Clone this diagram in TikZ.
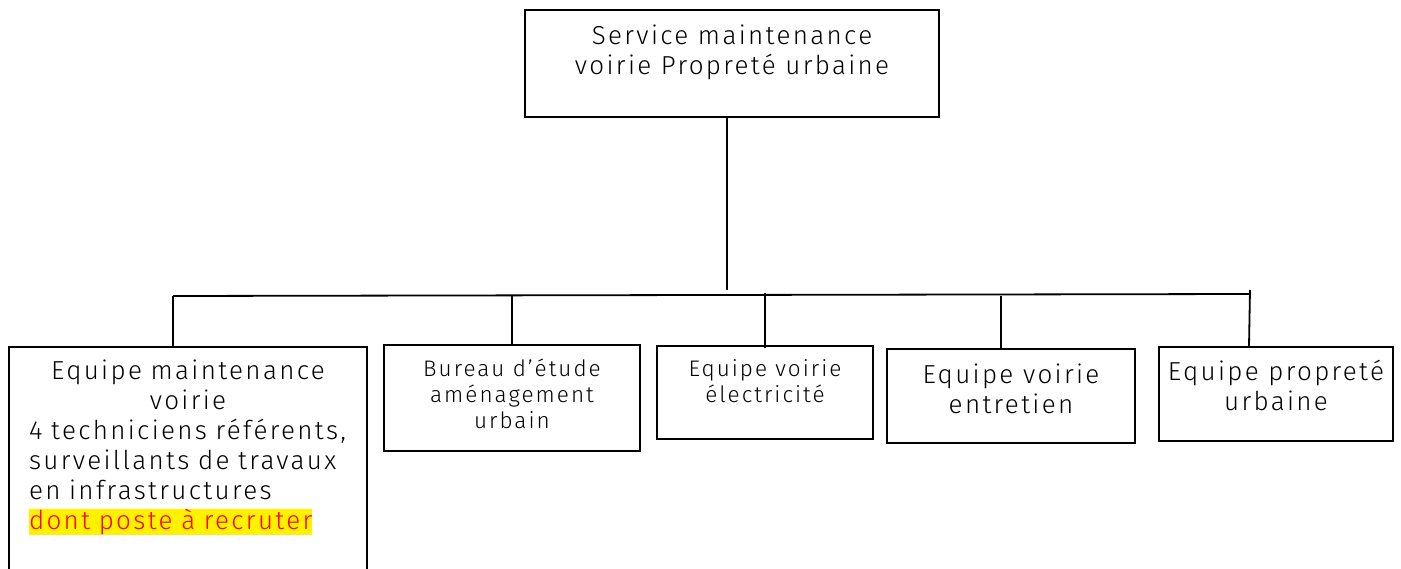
\documentclass[tikz,border=0pt]{standalone}
\usepackage{fontspec}
\setmainfont{Fira Sans Light}[LetterSpace=9]
\usepackage{xcolor}
\usepackage{tikz}
\usetikzlibrary{positioning}

\begin{document}
\begin{tikzpicture}[x=1pt, y=-1pt, node distance=10pt]
    \tikzstyle{box} = [rectangle, draw=black, line width=1.8pt, inner sep=0pt]
    \tikzstyle{boxtext} = [align=center, inner sep=0pt, font=\fontsize{26}{30}\selectfont]
    \tikzstyle{smalltext} = [align=center, inner sep=0pt, font=\fontsize{22.5}{26}\selectfont]
    \tikzstyle{link} = [draw=black, line width=1.8pt]

    \useasboundingbox (0,0) rectangle (1401,569);

    \node [box, minimum width=414pt, minimum height=107pt] (service) at (732,63.5) {};
    \node [boxtext, below=16pt of service.north] (servicetxt) {Service maintenance\\voirie Propreté urbaine};

    \node [box, minimum width=358pt, minimum height=240pt, anchor=north] (maint) at (188,346) {};
    \node [boxtext, text width=318pt, align=left, below=14pt of maint.north] (mainttxt) {{\centering Equipe maintenance\\voirie\par}\raggedright 4 techniciens référents,\\surveillants de travaux\\en infrastructures\\{\setlength{\fboxsep}{0pt}\colorbox{yellow}{\textcolor{red}{dont poste à recruter}}}};

    \node [box, minimum width=256pt, minimum height=106pt, anchor=north] (bureau) at (512,344) {};
    \node [smalltext, below=15pt of bureau.north] (bureautxt) {Bureau d’étude\\aménagement\\urbain};

    \node [box, minimum width=216pt, minimum height=93pt, anchor=north] (elec) at (765,345) {};
    \node [smalltext, below=14pt of elec.north] (electxt) {Equipe voirie\\électricité};

    \node [box, minimum width=248pt, minimum height=94pt, anchor=north] (entretien) at (1011,348) {};
    \node [boxtext, below=16pt of entretien.north] (entretientxt) {Equipe voirie\\entretien};

    \node [box, minimum width=234pt, minimum height=94pt, anchor=north] (proprete) at (1276,346) {};
    \node [boxtext, below=14pt of proprete.north] (propretetxt) {Equipe propreté\\urbaine};

    % bus line under the service box
    \coordinate (busL) at (173,296);
    \coordinate (busR) at (1250,294);
    \draw [link] (busL) -- (busR);
    \draw [link] ([xshift=-5pt]service.south) -- ([xshift=-5pt]service.south |- 0,290);

    \draw [link] (busL) -- (busL |- maint.north);
    \draw [link] (bureau.north) -- (bureau.north |- busL);
    \draw [link] ([yshift=-3pt]elec.north) -- ([yshift=3pt]elec.north |- busL);
    \draw [link] ([xshift=-10pt]entretien.north) -- ([xshift=-10pt]entretien.north |- busL);
    \draw [link] ([yshift=4pt]busR) -- ([xshift=-1pt]busR |- proprete.north);
\end{tikzpicture}
\end{document}
